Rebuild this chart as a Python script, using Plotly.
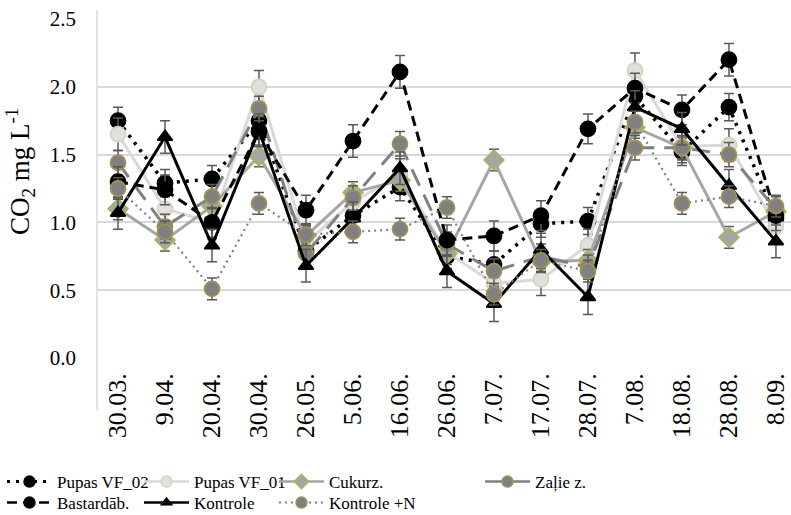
import plotly.graph_objects as go

categories = ["30.03.", "9.04.", "20.04.", "30.04.", "26.05.", "5.06.", "16.06.", "26.06.",
              "7.07.", "17.07.", "28.07.", "7.08.", "18.08.", "28.08.", "8.09."]

pupas_vf02 = [1.75, 1.29, 1.32, 1.75, 0.79, 1.05, 1.26, 0.75, 0.69, 0.99, 1.01, 1.93, 1.52, 1.85, 1.03]
pupas_vf01 = [1.65, 1.10, 1.00, 2.00, 0.85, 1.15, 1.35, 0.78, 0.55, 0.58, 0.83, 2.12, 1.56, 1.57, 0.97]
cukurz = [1.10, 0.87, 1.12, 1.49, 0.90, 1.22, 1.31, 0.77, 1.46, 0.71, 0.72, 1.70, 1.55, 0.89, 1.08]
zalie = [1.44, 0.97, 1.19, 1.84, 0.77, 1.18, 1.58, 0.84, 0.64, 0.75, 0.67, 1.55, 1.55, 1.50, 1.10]
bastard = [1.30, 1.24, 1.00, 1.67, 1.09, 1.60, 2.11, 0.87, 0.90, 1.05, 1.69, 1.99, 1.83, 2.20, 1.05]
kontrole = [1.07, 1.63, 0.83, 1.68, 0.68, 1.03, 1.40, 0.64, 0.40, 0.80, 0.45, 1.85, 1.69, 1.27, 0.86]
kontrole_n = [1.25, 0.93, 0.51, 1.14, 0.91, 0.93, 0.95, 1.11, 0.47, 0.72, 0.64, 1.74, 1.14, 1.19, 1.12]

err_vf02 = [0.10, 0.10, 0.10, 0.10, 0.10, 0.10, 0.10, 0.10, 0.10, 0.10, 0.10, 0.10, 0.10, 0.10, 0.10]
err_vf01 = [0.12, 0.12, 0.12, 0.12, 0.12, 0.12, 0.12, 0.12, 0.12, 0.12, 0.12, 0.13, 0.12, 0.12, 0.12]
err_cuk = [0.08, 0.08, 0.08, 0.08, 0.08, 0.08, 0.08, 0.08, 0.08, 0.08, 0.08, 0.08, 0.08, 0.08, 0.08]
err_zal = [0.09, 0.09, 0.09, 0.09, 0.09, 0.09, 0.09, 0.09, 0.09, 0.09, 0.09, 0.09, 0.09, 0.09, 0.09]
err_bas = [0.11, 0.11, 0.11, 0.11, 0.11, 0.12, 0.12, 0.11, 0.11, 0.11, 0.11, 0.11, 0.11, 0.12, 0.11]
err_kon = [0.12, 0.12, 0.12, 0.12, 0.12, 0.12, 0.12, 0.12, 0.13, 0.12, 0.13, 0.12, 0.12, 0.12, 0.12]
err_kn = [0.08, 0.08, 0.08, 0.08, 0.08, 0.08, 0.08, 0.08, 0.08, 0.08, 0.08, 0.08, 0.08, 0.08, 0.08]

FONT = "Liberation Serif"
ERRC = "#595959"

W, H = 791, 515
L, T, B = 97, 19, 157
ph = H - T - B


def py(pix):
    return (H - B - pix) / ph


def px(pix):
    return (pix - L) / (W - L)


series = [
    dict(name="Pupas VF_02", y=pupas_vf02, e=err_vf02, lc="#000000", lw=3.5, dash="3px,6px",
         sym="circle", ms=15, mc="#000000", mlc="#000000", lpos=(2, 464)),
    dict(name="Pupas VF_01", y=pupas_vf01, e=err_vf01, lc="#d9d9d9", lw=3, dash="solid",
         sym="circle", ms=15, mc="#e0e0e0", mlc="#d8d2b8", lpos=(139, 464)),
    dict(name="Cukurz.", y=cukurz, e=err_cuk, lc="#a6a6a6", lw=3, dash="solid",
         sym="diamond", ms=15, mc="#a6a6a6", mlc="#9bbb59", lpos=(274, 464)),
    dict(name="Zaļie z.", y=zalie, e=err_zal, lc="#808080", lw=3, dash="18px,10px",
         sym="circle", ms=15, mc="#808080", mlc="#a0905a", lpos=(480, 464)),
    dict(name="Bastardāb.", y=bastard, e=err_bas, lc="#000000", lw=3, dash="10px,6px",
         sym="circle", ms=15, mc="#000000", mlc="#000000", lpos=(2, 485)),
    dict(name="Kontrole", y=kontrole, e=err_kon, lc="#000000", lw=3, dash="solid",
         sym="triangle-up", ms=13, mc="#000000", mlc="#000000", lpos=(139, 485)),
    dict(name="Kontrole +N", y=kontrole_n, e=err_kn, lc="#808080", lw=2.2, dash="2px,4px",
         sym="circle", ms=15, mc="#808080", mlc="#a0905a", lpos=(274, 485)),
]

fig = go.Figure()
for s in series:
    fig.add_trace(go.Scatter(
        x=categories, y=s["y"], name=s["name"], mode="lines+markers",
        line=dict(color=s["lc"], width=s["lw"], dash=s["dash"]),
        marker=dict(symbol=s["sym"], size=s["ms"], color=s["mc"],
                    line=dict(color=s["mlc"], width=1.8)),
        error_y=dict(type="data", array=s["e"], visible=True, color=ERRC,
                     thickness=1.5, width=5),
        showlegend=False,
    ))

legend_layout = {}
for i, s in enumerate(series):
    key = "legend" if i == 0 else f"legend{i + 1}"
    fig.add_trace(go.Scatter(
        x=[None], y=[None], name=s["name"], mode="lines+markers",
        line=dict(color=s["lc"], width=s["lw"] * 0.85, dash=s["dash"]),
        marker=dict(symbol=s["sym"], size=s["ms"] - 4, color=s["mc"],
                    line=dict(color=s["mlc"], width=1.5)),
        showlegend=True, legend=key,
    ))
    lx, ly = s["lpos"]
    legend_layout[key] = dict(
        x=px(lx), y=py(ly), xanchor="left", yanchor="top", orientation="v",
        font=dict(family=FONT, size=17, color="#000000"),
        bgcolor="rgba(0,0,0,0)", itemwidth=45,
    )

fig.update_layout(
    width=W, height=H,
    margin=dict(l=L, r=0, t=T, b=B, autoexpand=False),
    paper_bgcolor="white", plot_bgcolor="white",
    font=dict(family=FONT, color="#000000"),
    showlegend=True,
    xaxis=dict(
        type="category", categoryorder="array", categoryarray=categories,
        range=[-0.447, 14.32], showgrid=False, zeroline=False, showline=False,
        ticks="", tickangle=-90, tickfont=dict(family=FONT, size=26, color="#000000"),
        ticklabelstandoff=9, automargin=False,
    ),
    yaxis=dict(
        range=[0, 2.5], dtick=0.5, tickformat=".1f", showgrid=True,
        gridcolor="#d9d9d9", gridwidth=1.5, zeroline=False, showline=False, ticks="",
        tickfont=dict(family=FONT, size=21, color="#000000"), ticklabelstandoff=20,
        automargin=False,
    ),
    shapes=[dict(type="line", xref="paper", yref="paper", x0=0, x1=0,
                 y0=py(410), y1=py(10), line=dict(color="#d9d9d9", width=1.5))],
    annotations=[dict(text="CO<sub>2</sub> mg L<sup>-1</sup>", textangle=-90,
                      xref="paper", yref="paper", x=0, y=py(172), xshift=20 - L,
                      xanchor="center", yanchor="middle", showarrow=False,
                      font=dict(family=FONT, size=27, color="#000000"))],
    **legend_layout,
)

fig.write_html("out.html")
